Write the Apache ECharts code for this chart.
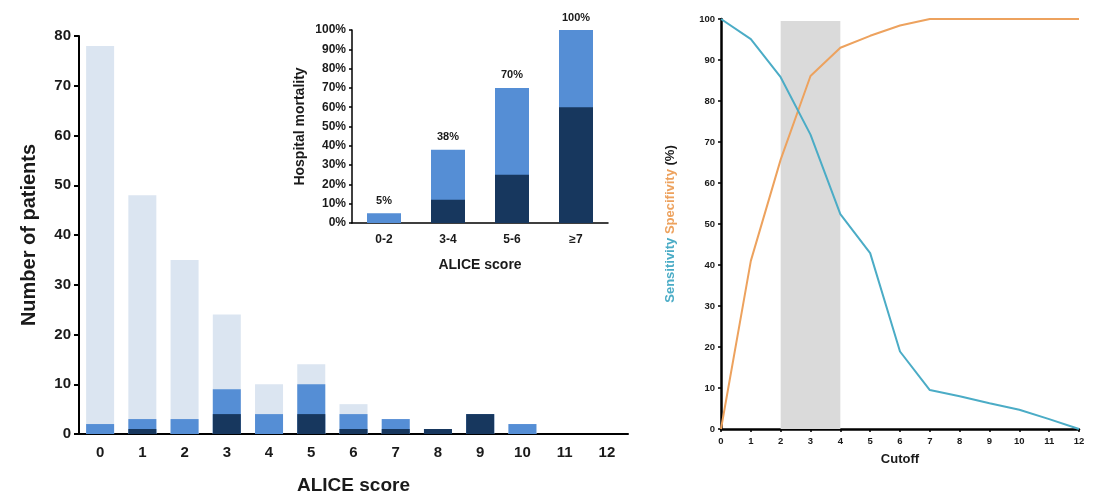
<!DOCTYPE html>
<html>
<head>
<meta charset="utf-8">
<script src="https://cdn.jsdelivr.net/npm/echarts@6/dist/echarts.min.js"></script>
<style>
  html, body { margin: 0; padding: 0; background: #fff; }
  #chart { width: 1095px; height: 495px; }
</style>
</head>
<body>
<div id="chart"></div>
<script>
// left: patients per ALICE score
const scores = ['0', '1', '2', '3', '4', '5', '6', '7', '8', '9', '10', '11', '12']
const patients = [78, 48, 35, 24, 10, 14, 6, 3, 1, 4, 2, 0, 0]
const deaths = [2, 3, 3, 9, 4, 10, 4, 3, 1, 4, 2, 0, 0]
const darkDeaths = [0, 1, 0, 4, 0, 4, 1, 1, 1, 4, 0, 0, 0]

// inset: hospital mortality per score group
const groups = ['0-2', '3-4', '5-6', '≥7']
const mortality = [5, 38, 70, 100]
const darkMortality = [0, 12, 25, 60]

// right: sensitivity / specificity by cutoff
const cutoffs = [0, 1, 2, 3, 4, 5, 6, 7, 8, 9, 10, 11, 12]
const sensitivity = [100, 95.1, 85.8, 71.8, 52.4, 42.9, 18.9, 9.5, 8, 6.3, 4.7, 2.4, 0]
const specificity = [0, 41, 65.7, 86.1, 93, 95.9, 98.4, 100, 100, 100, 100, 100, 100]

const LIGHT = '#dbe5f1'
const MID = '#558ed5'
const DARK = '#17375e'
const TEAL = '#4bacc6'
const ORANGE = '#eda25e'
const FONT = '"Liberation Sans", Arial, sans-serif'

const chart = echarts.init(document.getElementById('chart'))

const bold = (size) => ({ color: '#1a1a1a', fontWeight: 'bold', fontSize: size, fontFamily: FONT })

chart.setOption({
  animation: false,
  backgroundColor: '#fff',
  // keep grids where they are set, v6 would otherwise shrink them to fit names
  grid: [
    { left: 79, right: 467, top: 36, bottom: 61, outerBoundsMode: 'none' },
    { left: 352, right: 487, top: 30, bottom: 272, outerBoundsMode: 'none' },
    { left: 721, right: 16, top: 19, bottom: 66, outerBoundsMode: 'none' },
  ],
  xAxis: [
    {
      gridIndex: 0,
      type: 'category',
      data: scores,
      name: 'ALICE score',
      nameLocation: 'middle',
      nameGap: 42,
      nameTextStyle: bold(19),
      axisLine: { lineStyle: { color: '#000', width: 2 } },
      axisTick: { show: false },
      axisLabel: { ...bold(15), margin: 11 },
    },
    {
      gridIndex: 1,
      type: 'category',
      data: groups,
      name: 'ALICE score',
      nameLocation: 'middle',
      nameGap: 35,
      nameTextStyle: bold(14),
      axisLine: { lineStyle: { color: '#000', width: 1.5 } },
      axisTick: { show: false },
      axisLabel: { ...bold(12), margin: 11 },
    },
    {
      gridIndex: 2,
      type: 'value',
      min: 0,
      max: 12,
      interval: 1,
      name: 'Cutoff',
      nameLocation: 'middle',
      nameGap: 24,
      nameTextStyle: bold(13),
      splitLine: { show: false },
      axisLine: { onZero: false, lineStyle: { color: '#000', width: 2.5 } },
      axisTick: { show: true, length: 3, lineStyle: { color: '#000', width: 1.5 } },
      axisLabel: { ...bold(9.5), margin: 7 },
    },
  ],
  yAxis: [
    {
      gridIndex: 0,
      type: 'value',
      min: 0,
      max: 80,
      interval: 10,
      name: 'Number of patients',
      nameLocation: 'middle',
      nameGap: 40,
      nameTextStyle: bold(20),
      splitLine: { show: false },
      axisLine: { show: true, lineStyle: { color: '#000', width: 2 } },
      axisTick: { show: true, length: 5, lineStyle: { color: '#000', width: 2 } },
      axisLabel: { ...bold(15), margin: 8 },
    },
    {
      gridIndex: 1,
      type: 'value',
      min: 0,
      max: 100,
      interval: 10,
      name: 'Hospital mortality',
      nameLocation: 'middle',
      nameGap: 45,
      nameTextStyle: bold(14),
      splitLine: { show: false },
      axisLine: { show: true, lineStyle: { color: '#000', width: 1.5 } },
      axisTick: { show: true, length: 3, lineStyle: { color: '#000', width: 1.5 } },
      axisLabel: { ...bold(12), margin: 6, formatter: '{value}%' },
    },
    {
      gridIndex: 2,
      type: 'value',
      min: 0,
      max: 100,
      interval: 10,
      name: '{a|Sensitivity} {b|Specifivity} {c|(%)}',
      nameLocation: 'middle',
      nameGap: 44,
      nameTextStyle: {
        ...bold(13),
        rich: {
          a: { color: TEAL, fontWeight: 'bold', fontSize: 13, fontFamily: FONT },
          b: { color: ORANGE, fontWeight: 'bold', fontSize: 13, fontFamily: FONT },
          c: { color: '#1a1a1a', fontWeight: 'bold', fontSize: 13, fontFamily: FONT },
        },
      },
      splitLine: { show: false },
      axisLine: { show: true, onZero: false, lineStyle: { color: '#000', width: 2.5 } },
      axisTick: { show: true, length: 3, lineStyle: { color: '#000', width: 1.5 } },
      axisLabel: { ...bold(9.5), margin: 6 },
    },
  ],
  series: [
    // left chart, overlapping bars
    { type: 'bar', xAxisIndex: 0, yAxisIndex: 0, data: patients, barWidth: 28, barGap: '-100%', itemStyle: { color: LIGHT } },
    { type: 'bar', xAxisIndex: 0, yAxisIndex: 0, data: deaths, barWidth: 28, barGap: '-100%', itemStyle: { color: MID } },
    { type: 'bar', xAxisIndex: 0, yAxisIndex: 0, data: darkDeaths, barWidth: 28, barGap: '-100%', itemStyle: { color: DARK } },
    // inset
    {
      type: 'bar', xAxisIndex: 1, yAxisIndex: 1, data: mortality, barWidth: 34, barGap: '-100%',
      itemStyle: { color: MID },
      label: { show: true, position: 'top', distance: 7, formatter: '{c}%', ...bold(11) },
    },
    { type: 'bar', xAxisIndex: 1, yAxisIndex: 1, data: darkMortality, barWidth: 34, barGap: '-100%', itemStyle: { color: DARK } },
    // right chart
    {
      type: 'line', xAxisIndex: 2, yAxisIndex: 2,
      data: cutoffs.map((c, i) => [c, specificity[i]]),
      showSymbol: false,
      lineStyle: { color: ORANGE, width: 2 },
      itemStyle: { color: ORANGE },
      markArea: {
        silent: true,
        itemStyle: { color: '#dadada' },
        data: [[{ coord: [2, 0] }, { coord: [4, 99.5] }]],
      },
    },
    {
      type: 'line', xAxisIndex: 2, yAxisIndex: 2,
      data: cutoffs.map((c, i) => [c, sensitivity[i]]),
      showSymbol: false,
      lineStyle: { color: TEAL, width: 2 },
      itemStyle: { color: TEAL },
    },
  ],
})
</script>
</body>
</html>
